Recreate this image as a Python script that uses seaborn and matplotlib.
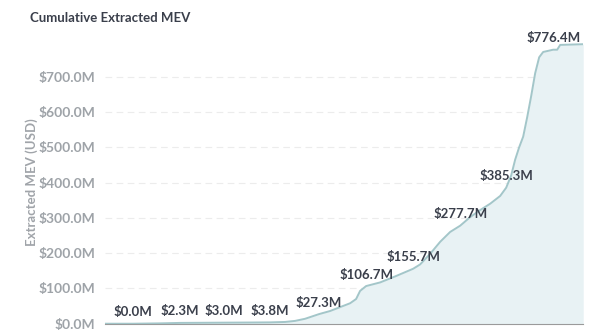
import matplotlib
matplotlib.use("Agg")
import matplotlib.pyplot as plt
import seaborn as sns
import pandas as pd
from matplotlib.ticker import FuncFormatter

# ---- data (x in arbitrary time units, y in $M) ----
time_idx = [0, 28, 55, 75, 95, 119, 145, 165, 180, 190, 200, 214, 225, 235, 245,
            251, 255, 261, 275, 290, 308, 315, 325, 335, 345, 355, 365, 375, 385,
            395, 401, 406, 410, 414, 418, 422, 426, 430, 434, 438, 448, 452, 455, 478]
cum_mev = [0.0, 0.0, 1.0, 2.3, 2.6, 3.0, 3.4, 3.8, 5.0, 8.0, 14.0, 27.3, 36.0, 47.0, 58.0,
           70.0, 93.0, 106.7, 117.0, 134.0, 155.7, 168.0, 198.0, 232.0, 260.0, 277.7, 302.0,
           322.0, 340.0, 362.0, 385.3, 420.0, 465.0, 500.0, 530.0, 585.0, 645.0, 710.0,
           755.0, 770.0, 776.4, 776.4, 790.0, 792.0]
label_idx = [28, 75, 119, 165, 214, 261, 308, 355, 401, 448]
label_val = [0.0, 2.3, 3.0, 3.8, 27.3, 106.7, 155.7, 277.7, 385.3, 776.4]
y_ticks = [0, 100, 200, 300, 400, 500, 600, 700]

title = "Cumulative Extracted MEV"
y_label = "Extracted MEV (USD)"

df = pd.DataFrame({"t": time_idx, "mev": cum_mev})

sns.set_theme(style="white")
plt.rcParams["font.family"] = ["Lato", "DejaVu Sans"]

fig = plt.figure(figsize=(6.0, 3.31), dpi=100)
ax = fig.add_axes([0.175, 0.022, 0.797, 0.853])

line_c = "#a3c6c9"
fill_c = "#e8f2f4"
ax.fill_between(df["t"], 0, df["mev"], color=fill_c, lw=0, zorder=1)
sns.lineplot(data=df, x="t", y="mev", ax=ax, color=line_c, lw=1.4, zorder=3)

for xi, v in zip(label_idx, label_val):
    ax.annotate(f"${v:.1f}M", (xi, v), xytext=(0, 4), textcoords="offset points",
                ha="center", va="bottom", fontsize=9.5, fontweight="bold",
                color="#3a3f4b", zorder=5)

ax.set_xlim(0, 478)
ax.set_ylim(0, 800)
ax.set_yticks(y_ticks)
ax.yaxis.set_major_formatter(FuncFormatter(lambda v, p: f"${v:.1f}M"))
ax.set_xticks([])
ax.set_xlabel("")
ax.set_ylabel(y_label, fontsize=9.5, fontweight="bold", color="#a0a4a9")
ax.yaxis.set_label_coords(-0.14, 0.5)
ax.tick_params(axis="y", labelsize=10, labelcolor="#9ea3a8", length=0, pad=7)
for lbl in ax.get_yticklabels():
    lbl.set_fontweight("bold")

ax.grid(axis="y", color="#ececec", lw=0.8, linestyle=(0, (6, 4)), zorder=0)
ax.set_axisbelow(True)
for s in ["top", "right", "left"]:
    ax.spines[s].set_visible(False)
ax.spines["bottom"].set_color("#9a9a9a")
ax.spines["bottom"].set_linewidth(0.8)

fig.text(0.05, 0.945, title, fontsize=9.5, fontweight="bold", color="#3a3f4b",
         ha="left", va="center")

fig.savefig("out.png", dpi=100)
